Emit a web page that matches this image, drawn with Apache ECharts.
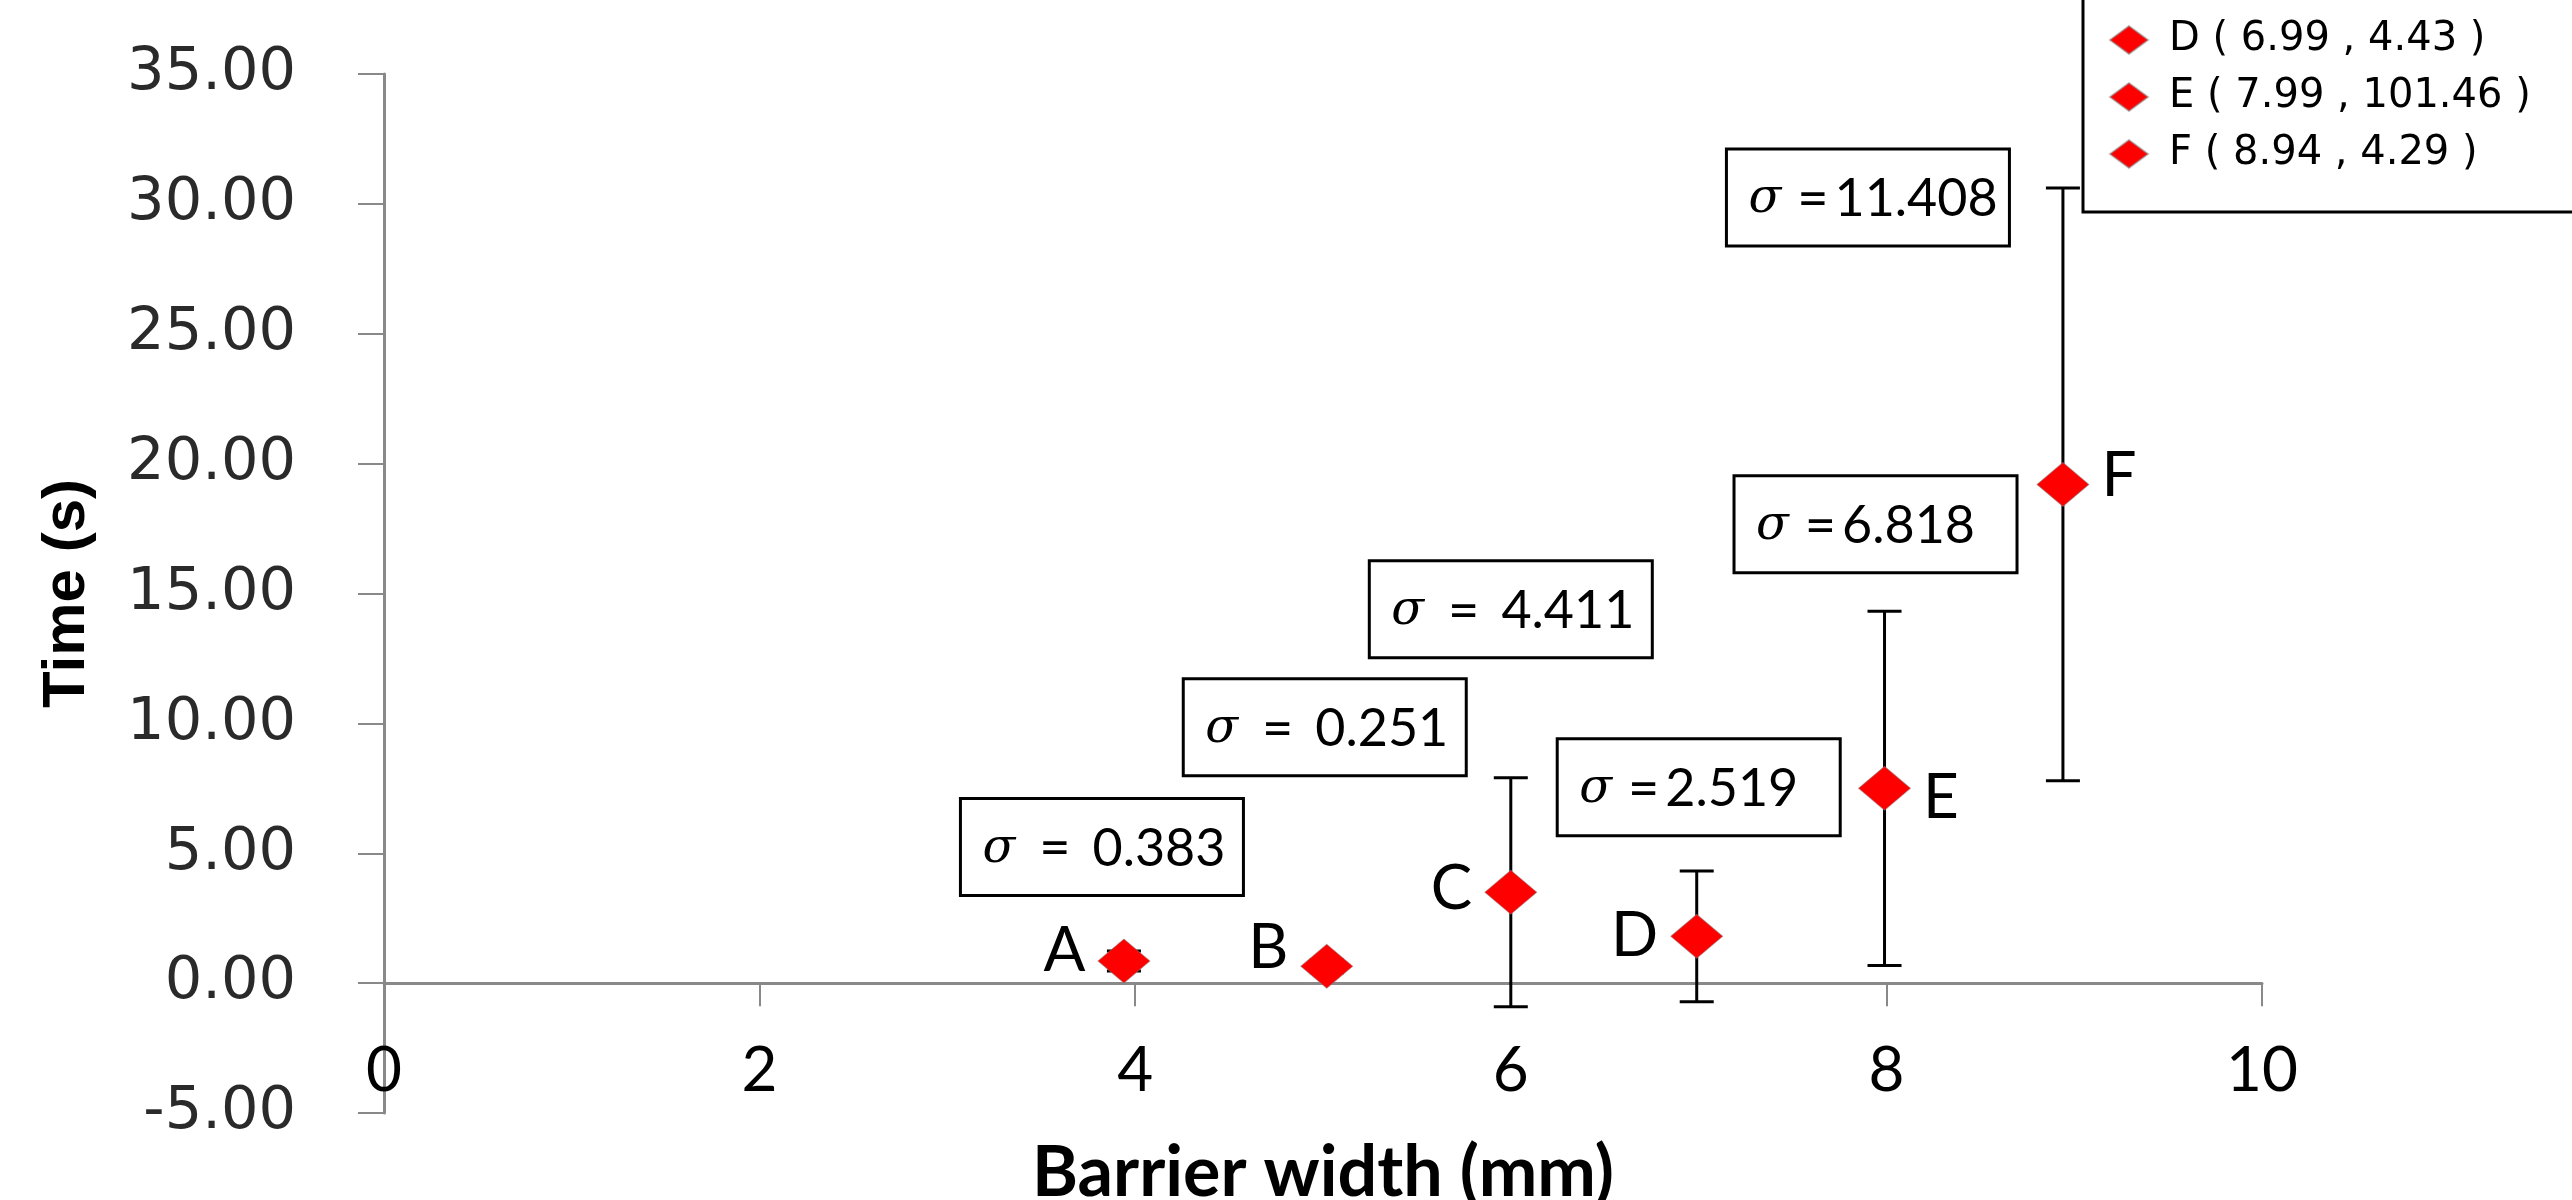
<!DOCTYPE html>
<html>
<head>
<meta charset="utf-8">
<script src="https://cdn.jsdelivr.net/npm/echarts@6/dist/echarts.min.js"></script>
<style>
  html, body { margin: 0; padding: 0; background: #fff; }
  #chart { width: 2572px; height: 1200px; }
</style>
</head>
<body>
<div id="chart"></div>
<script>
// Measured samples: barrier width (mm) vs. mean time (s) with standard deviation
const pointNames   = ['A', 'B', 'C', 'D', 'E', 'F'];
const barrierWidth = [3.94, 5.02, 6.0, 6.99, 7.99, 8.94];
const meanTime     = [0.85, 0.65, 3.5, 1.8, 7.5, 19.2];
const sigmaValue   = [0.383, 0.251, 4.411, 2.519, 6.818, 11.408];
const sigmaText    = ['σ = 0.383', 'σ = 0.251', 'σ = 4.411', 'σ =2.519', 'σ =6.818', 'σ =11.408'];
const legendNames  = ['A', 'B', 'C', 'D ( 6.99 , 4.43 )', 'E ( 7.99 , 101.46 )', 'F ( 8.94 , 4.29 )'];
const legendShown  = ['D ( 6.99 , 4.43 )', 'E ( 7.99 , 101.46 )', 'F ( 8.94 , 4.29 )'];

// Axis ranges and tick steps
const xMin = 0, xMax = 10, xStep = 2;
const yMin = -5, yMax = 35, yStep = 5;

// Layout: which side each point letter sits on, and where each sigma box goes (px from point)
const letterSide = ['left', 'left', 'left', 'left', 'right', 'right'];
const letterShift = [-10, -18, -3, 0, 10, -8];
const noteShift = [[-22, -114], [-2, -239], [0, -283], [2, -149], [-9, -264], [-195, -287]];
const NOTE_W = 283, NOTE_H = 97;

const AXIS_GRAY = '#898989';
const chart = echarts.init(document.getElementById('chart'));

const pointSeries = pointNames.map((n, i) => ({
  type: 'scatter',
  name: legendNames[i],
  z: 5,
  symbol: 'diamond',
  symbolSize: [52, 44],
  itemStyle: { color: '#ff0000', opacity: 1, borderColor: 'rgba(130,130,130,0.5)', borderWidth: 1 },
  label: {
    show: true,
    position: letterSide[i],
    distance: 12,
    offset: [0, letterShift[i]],
    formatter: () => n,
    fontFamily: 'Lato',
    fontSize: 62,
    color: '#000'
  },
  emphasis: { disabled: true },
  data: [[barrierWidth[i], meanTime[i]]]
}));

const errorSeries = {
  type: 'custom',
  name: 'sd',
  z: 3,
  silent: true,
  data: barrierWidth.map((x, i) => [x, meanTime[i], sigmaValue[i]]),
  renderItem(params, api) {
    const x = api.value(0), y = api.value(1), s = api.value(2);
    const top = api.coord([x, y + s]);
    const bot = api.coord([x, y - s]);
    const cap = 17;
    const st = { stroke: '#000', lineWidth: 3 };
    return {
      type: 'group',
      children: [
        { type: 'line', shape: { x1: top[0], y1: top[1], x2: bot[0], y2: bot[1] }, style: st },
        { type: 'line', shape: { x1: top[0] - cap, y1: top[1], x2: top[0] + cap, y2: top[1] }, style: st },
        { type: 'line', shape: { x1: bot[0] - cap, y1: bot[1], x2: bot[0] + cap, y2: bot[1] }, style: st }
      ]
    };
  }
};

const noteSeries = {
  type: 'custom',
  name: 'notes',
  z: 4,
  silent: true,
  data: barrierWidth.map((x, i) => [x, meanTime[i], i]),
  renderItem(params, api) {
    const i = api.value(2);
    const p = api.coord([api.value(0), api.value(1)]);
    const cx = p[0] + noteShift[i][0];
    const cy = p[1] + noteShift[i][1];
    const left = cx - NOTE_W / 2, top = cy - NOTE_H / 2;
    const parts = sigmaText[i].split('=');
    const value = parts[1];
    const spaced = value.charAt(0) === ' ';
    return {
      type: 'group',
      children: [
        { type: 'rect', shape: { x: left, y: top, width: NOTE_W, height: NOTE_H },
          style: { fill: '#fff', stroke: '#000', lineWidth: 3 } },
        { type: 'text', x: left + 22, y: cy + 2,
          style: {
            text: '{s|σ}{' + (spaced ? 'ew' : 'en') + '|=}{v|' + value.trim() + '}',
            verticalAlign: 'middle',
            align: 'left',
            rich: {
              s: { fontFamily: 'DejaVu Serif', fontStyle: 'italic', fontSize: 48, fill: '#000' },
              ew: { fontFamily: 'Lato', fontSize: 54, fill: '#000', padding: [0, 22, 0, 24] },
              en: { fontFamily: 'Lato', fontSize: 54, fill: '#000', padding: [0, 6, 0, 16] },
              v: { fontFamily: 'Lato', fontSize: 52, fill: '#000' }
            }
          } }
      ]
    };
  }
};

chart.setOption({
  backgroundColor: '#fff',
  animation: false,
  grid: { left: 384, right: 310, top: 74, bottom: 87, containLabel: false, outerBoundsMode: 'none' },
  legend: {
    data: legendShown,
    orient: 'vertical',
    left: 2083,
    top: -200,
    padding: [218, 220, 36, 26],
    backgroundColor: '#fff',
    borderColor: '#000',
    borderWidth: 3,
    borderRadius: 0,
    icon: 'diamond',
    itemWidth: 38,
    itemHeight: 28,
    itemGap: 13,
    selectedMode: false,
    textStyle: { fontFamily: 'DejaVu Sans', fontSize: 40, lineHeight: 44, color: '#000', padding: [0, 0, 0, 16] }
  },
  xAxis: {
    type: 'value',
    min: xMin, max: xMax, interval: xStep,
    name: 'Barrier width (mm)',
    nameLocation: 'middle',
    nameGap: 25,
    nameTextStyle: { fontFamily: 'Lato', fontWeight: 'bold', fontSize: 70, color: '#000' },
    axisLine: { onZero: true, lineStyle: { color: AXIS_GRAY, width: 3 } },
    axisTick: { inside: false, length: 23, lineStyle: { color: AXIS_GRAY, width: 2 } },
    axisLabel: { margin: -73, fontFamily: 'Lato', fontSize: 62, color: '#000' },
    splitLine: { show: false }
  },
  yAxis: {
    type: 'value',
    min: yMin, max: yMax, interval: yStep,
    name: 'Time (s)',
    nameLocation: 'middle',
    nameRotate: 90,
    nameGap: 287,
    nameTextStyle: { fontFamily: 'Liberation Sans', fontWeight: 'bold', fontSize: 60, color: '#000' },
    axisLine: { onZero: false, lineStyle: { color: AXIS_GRAY, width: 3 } },
    axisTick: { inside: false, length: 26, lineStyle: { color: AXIS_GRAY, width: 2 } },
    axisLabel: { margin: 88, fontFamily: 'DejaVu Sans', fontSize: 59, color: '#2a2a2a', formatter: v => v.toFixed(2) },
    splitLine: { show: false }
  },
  series: [errorSeries, noteSeries].concat(pointSeries)
});
</script>
</body>
</html>
